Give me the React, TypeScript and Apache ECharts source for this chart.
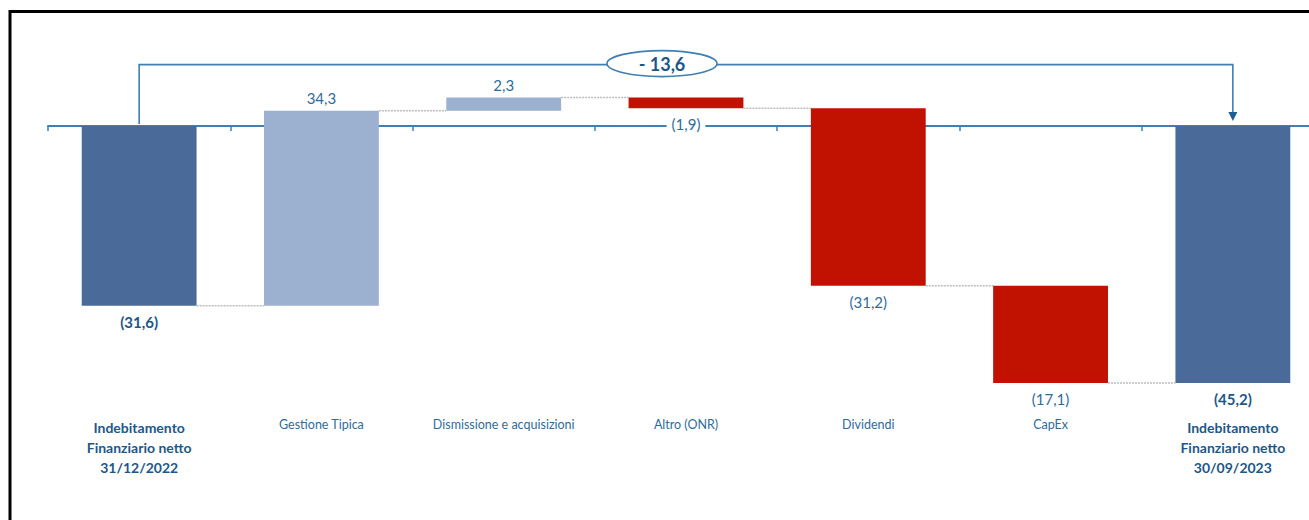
import React, { useEffect, useRef } from "react";
import * as echarts from "echarts";

const categories = [
  "Indebitamento\nFinanziario netto\n31/12/2022",
  "Gestione Tipica",
  "Dismissione e acquisizioni",
  "Altro (ONR)",
  "Dividendi",
  "CapEx",
  "Indebitamento\nFinanziario netto\n30/09/2023",
];
const values = [-31.6, 34.3, 2.3, -1.9, -31.2, -17.1, -45.2];
const kinds = ["total", "delta", "delta", "delta", "delta", "delta", "total"];
const valueLabels = ["(31,6)", "34,3", "2,3", "(1,9)", "(31,2)", "(17,1)", "(45,2)"];
const changeLabel = "- 13,6";

const FONT = "Lato, 'Open Sans', sans-serif";
const DARK = "#4A6A99";
const LIGHT = "#9CB0CF";
const RED = "#C11100";
const AXIS = "#3F7FB2";
const TXT = "#2E6C9C";
const TXT_B = "#1D5788";

export default function App() {
  const ref = useRef<HTMLDivElement>(null);
  useEffect(() => {
    const chart = echarts.init(ref.current!, null, { renderer: "svg" });
    let cum = 0;
    const rows = values.map((v, i) => {
      let start: number, end: number;
      if (kinds[i] === "total") {
        start = 0;
        end = v;
      } else {
        start = cum;
        end = cum + v;
      }
      cum = end;
      return [i, Math.min(start, end), Math.max(start, end), end, v];
    });
    const n = values.length;
    const k = 5.687;
    const yMax = 20;
    const yMin = -51;
    chart.setOption({
      animation: false,
      grid: {
        left: 48,
        width: 1276,
        top: 126 - yMax * k,
        height: (yMax - yMin) * k,
        containLabel: false,
        outerBoundsMode: "none",
      },
      xAxis: [
        {
          type: "category",
          data: categories,
          position: "bottom",
          axisLine: { onZero: true, lineStyle: { color: AXIS, width: 2 } },
          axisTick: { show: true, length: 5, lineStyle: { color: AXIS, width: 1.5 } },
          splitLine: { show: false },
          axisLabel: { show: false },
        },
        {
          type: "category",
          data: categories,
          position: "bottom",
          axisLine: { show: false, onZero: false },
          axisTick: { show: false },
          splitLine: { show: false },
          axisLabel: {
            interval: 0,
            margin: 1,
            formatter: (val: string, idx: number) =>
              kinds[idx] === "total"
                ? val.split("\n").map((l) => `{b|${l}}`).join("\n")
                : `{r|${val}}`,
            rich: {
              b: { fontFamily: FONT, fontSize: 14, fontWeight: "bold", color: TXT_B, lineHeight: 20 },
              r: { fontFamily: FONT, fontSize: 12.5, color: TXT, lineHeight: 14 },
            },
          },
        },
      ],
      yAxis: { type: "value", show: false, min: yMin, max: yMax },
      series: [
        {
          type: "custom",
          data: rows,
          xAxisIndex: 0,
          encode: { x: 0, y: [1, 2] },
          renderItem: (params: any, api: any) => {
            const i = api.value(0);
            const lo = api.value(1);
            const hi = api.value(2);
            const end = api.value(3);
            const v = api.value(4);
            const top = api.coord([i, hi]);
            const bot = api.coord([i, lo]);
            const catW = api.size([1, 0])[0];
            const bw = catW * 0.63;
            const cx = top[0];
            const total = kinds[i] === "total";
            const color = total ? DARK : v >= 0 ? LIGHT : RED;
            const children: any[] = [
              { type: "rect", shape: { x: cx - bw / 2, y: top[1], width: bw, height: bot[1] - top[1] }, style: { fill: color } },
            ];
            if (i < n - 1) {
              const ye = api.coord([i, end])[1];
              children.push({
                type: "line",
                shape: { x1: cx + bw / 2, y1: ye, x2: cx + catW - bw / 2, y2: ye },
                style: { stroke: "#BDBDBD", lineWidth: 1.5, lineDash: [2, 1] },
              });
            }
            const neg = v < 0;
            const ly = neg ? bot[1] + 16 : top[1] - 13;
            children.push({
              type: "text",
              z2: 10,
              style: {
                text: valueLabels[i],
                x: cx,
                y: ly,
                align: "center",
                verticalAlign: "middle",
                fill: total ? TXT_B : TXT,
                fontFamily: FONT,
                fontSize: 15,
                fontWeight: total ? "bold" : "normal",
                backgroundColor: i === 3 ? "#fff" : undefined,
                padding: i === 3 ? [0, 5] : 0,
              },
            });
            return { type: "group", children };
          },
        },
      ],
    });

    const p0 = chart.convertToPixel({ gridIndex: 0 }, [0, 0]) as number[];
    const p6 = chart.convertToPixel({ gridIndex: 0 }, [n - 1, 0]) as number[];
    const yb = (chart.convertToPixel({ gridIndex: 0 }, [0, 10.8]) as number[])[1];
    const x0 = p0[0];
    const x6 = p6[0];
    const y0 = p0[1];
    const ex = (x0 + x6) / 2 - 24;
    chart.setOption({
      graphic: [
        {
          type: "rect",
          shape: { x: 10, y: 11.5, width: 1400, height: 600 },
          style: { fill: "transparent", stroke: "#000", lineWidth: 3 },
        },
        {
          type: "polyline",
          shape: { points: [[x0, y0 - 2], [x0, yb], [x6, yb], [x6, y0 - 14]] },
          style: { stroke: AXIS, lineWidth: 1.6, fill: null },
        },
        {
          type: "polygon",
          shape: { points: [[x6 - 4.5, y0 - 14], [x6 + 4.5, y0 - 14], [x6, y0 - 5]] },
          style: { fill: "#1D5E92" },
        },
        {
          type: "ellipse",
          shape: { cx: ex, cy: yb - 1, rx: 55, ry: 13 },
          style: { fill: "#fff", stroke: AXIS, lineWidth: 1.6 },
        },
        {
          type: "text",
          style: {
            text: changeLabel,
            x: ex,
            y: yb - 1,
            align: "center",
            verticalAlign: "middle",
            fill: TXT_B,
            fontFamily: FONT,
            fontSize: 18,
            fontWeight: "bold",
          },
        },
      ],
    });
    return () => chart.dispose();
  }, []);
  return (
    <div style={{ position: "fixed", left: 0, top: 0, width: 1309, height: 520, overflow: "hidden", background: "#fff" }}>
      <div ref={ref} style={{ width: 1330, height: 520 }} />
    </div>
  );
}
